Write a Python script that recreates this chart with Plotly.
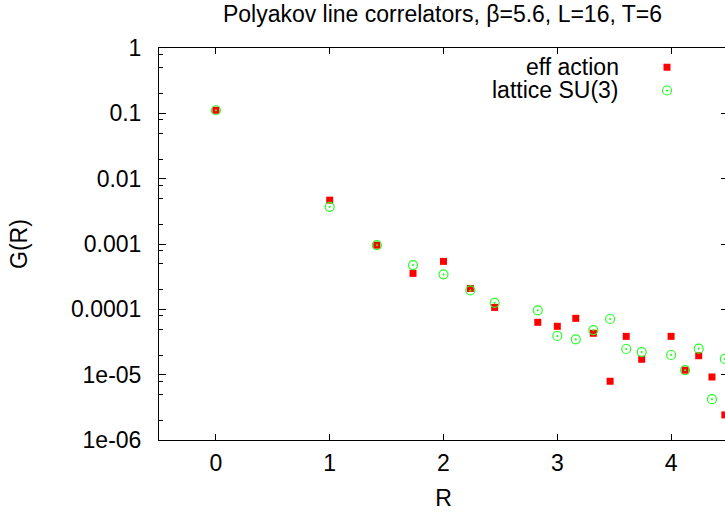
import numpy as np
import plotly.graph_objects as go

# Data
n_sq = [0, 1, 2, 3, 4, 5, 6, 8, 9, 10, 11, 12, 13, 14, 16, 17, 18, 19, 20]
R = [float(np.sqrt(n)) for n in n_sq]
eff_action = [0.1115, 0.00469, 0.00096, 0.000355, 0.000542, 0.000209, 0.000107,
              6.33e-5, 5.50e-5, 7.28e-5, 4.30e-5, 7.93e-6, 3.86e-5, 1.72e-5,
              3.86e-5, 1.17e-5, 1.95e-5, 9.22e-6, 2.42e-6]
lattice_su3 = [0.1115, 0.00371, 0.00096, 0.000475, 0.000343, 0.000195, 0.000126,
               9.66e-5, 3.91e-5, 3.48e-5, 4.82e-5, 7.11e-5, 2.47e-5, 2.22e-5,
               2.00e-5, 1.17e-5, 2.50e-5, 4.21e-6, 1.74e-5]
ytick_vals = [1, 0.1, 0.01, 0.001, 0.0001, 1e-5, 1e-6]
ytick_text = ["1", "0.1", "0.01", "0.001", "0.0001", "1e-05", "1e-06"]
xtick_vals = [0, 1, 2, 3, 4]
names = ["eff action", "lattice SU(3)"]

FONT = "Liberation Sans, Arial, sans-serif"
FS = 23
minor_vals = []
for e in range(-6, 1):
    for m in (2, 5, 8):
        v = m * 10.0 ** e
        if v < 1:
            minor_vals.append(v)

# figure slightly wider than the window: the right frame falls just off-screen
W, H = 735, 512
L, T = 159, 48
PR, PB = 728, 440          # plot right / bottom
Rm, B = W - PR, H - PB
PW, PH = PR - L, PB - T

fig = go.Figure()
fig.add_trace(go.Scatter(x=R, y=eff_action, mode="markers", name=names[0],
                         legendgroup="a",
                         marker=dict(symbol="square", size=7, color="#ff0000",
                                     line=dict(width=0))))
fig.add_trace(go.Scatter(x=R, y=lattice_su3, mode="markers", name=names[1],
                         legendgroup="b",
                         marker=dict(symbol="circle-open-dot", size=9, color="#22ff22",
                                     line=dict(width=1.2, color="#22ff22"))))

fig.update_layout(
    width=W, height=H,
    margin=dict(l=L, r=Rm, t=T, b=B, autoexpand=False),
    paper_bgcolor="white", plot_bgcolor="white",
    font=dict(family=FONT, size=FS, color="#000000"),
    title=dict(text="Polyakov line correlators, β=5.6, L=16, T=6",
               x=442.5 / W, xanchor="center", y=1 - 14 / H, yanchor="middle",
               font=dict(family=FONT, size=FS, color="#000000")),
    showlegend=True,
    legend=dict(x=(647 - L) / PW, xanchor="left", y=1 - (52.7 - T) / PH, yanchor="top",
                bgcolor="rgba(0,0,0,0)", font=dict(size=1, color="rgba(0,0,0,0)"),
                tracegroupgap=4.3, itemwidth=30),
)
fig.update_xaxes(range=[-0.5, 4.5], tickvals=xtick_vals, ticks="inside", ticklen=6,
                 tickcolor="#000", showline=True, linecolor="#000", linewidth=1,
                 mirror="ticks", showgrid=False, zeroline=False, automargin=False,
                 ticklabelstandoff=2,
                 title=dict(text="R", standoff=15, font=dict(size=FS)))
fig.update_yaxes(type="log", range=[-6, 0], tickvals=ytick_vals, ticktext=ytick_text,
                 ticks="inside", ticklen=7, tickcolor="#000", showline=True,
                 linecolor="#000", linewidth=1, mirror="ticks", showgrid=False,
                 zeroline=False, ticklabelstandoff=12, automargin=False,
                 minor=dict(tickvals=minor_vals, ticks="inside", ticklen=3.5,
                            tickcolor="#000", showgrid=False),
                 title=dict(text="G(R)", standoff=36, font=dict(size=FS)))

# legend texts, right-aligned left of the keys as in the reference
for i, nm in enumerate(names):
    fig.add_annotation(text=nm, xref="paper", yref="paper", x=(621 - L) / PW,
                       y=1 - (66.7 + 23.3 * i - T) / PH, xanchor="right", yanchor="middle",
                       showarrow=False, font=dict(family=FONT, size=FS, color="#000"))

page_css = ("document.body.style.margin='0';"
            "document.body.style.overflow='hidden';"
            "document.documentElement.style.overflow='hidden';")
fig.write_html("out.html", post_script=page_css, config={"displayModeBar": False})
